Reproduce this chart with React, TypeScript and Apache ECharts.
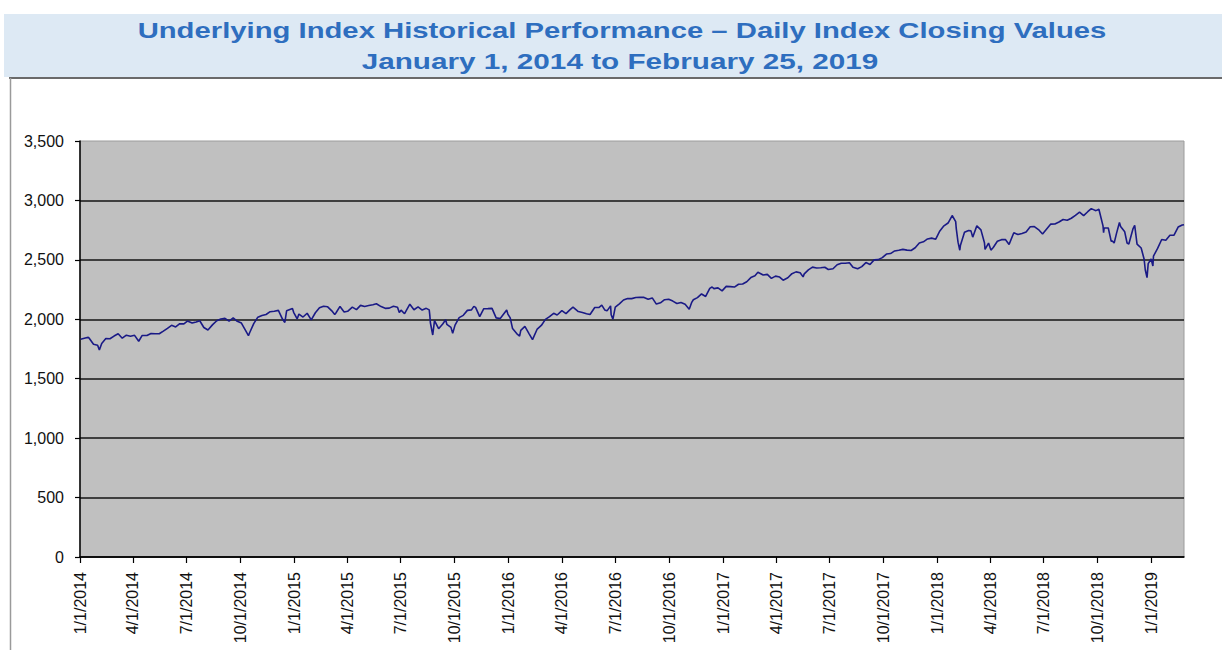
import React, { useEffect, useRef } from 'react';
import * as echarts from 'echarts';

const titleLine1 = 'Underlying Index Historical Performance – Daily Index Closing Values';
const titleLine2 = 'January 1, 2014 to February 25, 2019';

const xTickLabels = [
  '1/1/2014', '4/1/2014', '7/1/2014', '10/1/2014',
  '1/1/2015', '4/1/2015', '7/1/2015', '10/1/2015',
  '1/1/2016', '4/1/2016', '7/1/2016', '10/1/2016',
  '1/1/2017', '4/1/2017', '7/1/2017', '10/1/2017',
  '1/1/2018', '4/1/2018', '7/1/2018', '10/1/2018',
  '1/1/2019',
];
const xStart = '2014-01-01';
const xEnd = '2019-02-25';
const yMin = 0;
const yMax = 3500;
const yStep = 500;

const s2014: [string, number][] = [
  ['2014-01-02', 1832], ['2014-01-10', 1842], ['2014-01-15', 1848], ['2014-01-17', 1839],
  ['2014-01-24', 1790], ['2014-01-31', 1782], ['2014-02-03', 1742], ['2014-02-07', 1797],
  ['2014-02-14', 1838], ['2014-02-21', 1836], ['2014-02-28', 1859], ['2014-03-07', 1878],
  ['2014-03-14', 1841], ['2014-03-21', 1866], ['2014-03-28', 1857], ['2014-04-04', 1865],
  ['2014-04-11', 1815], ['2014-04-17', 1864], ['2014-04-25', 1863], ['2014-05-02', 1881],
  ['2014-05-09', 1878], ['2014-05-16', 1878], ['2014-05-23', 1900], ['2014-05-30', 1924],
  ['2014-06-06', 1949], ['2014-06-13', 1936], ['2014-06-20', 1963], ['2014-06-27', 1961],
  ['2014-07-03', 1985], ['2014-07-11', 1968], ['2014-07-18', 1978], ['2014-07-24', 1988],
  ['2014-07-31', 1931], ['2014-08-07', 1910], ['2014-08-15', 1955], ['2014-08-22', 1988],
  ['2014-08-29', 2003], ['2014-09-05', 2008], ['2014-09-12', 1985], ['2014-09-19', 2011],
  ['2014-09-26', 1983], ['2014-10-03', 1968], ['2014-10-10', 1906], ['2014-10-15', 1862],
  ['2014-10-17', 1887], ['2014-10-24', 1964], ['2014-10-31', 2018], ['2014-11-07', 2032],
  ['2014-11-14', 2040], ['2014-11-21', 2064], ['2014-11-28', 2068], ['2014-12-05', 2075],
  ['2014-12-12', 2002], ['2014-12-16', 1973], ['2014-12-19', 2071], ['2014-12-29', 2091],
  ['2014-12-31', 2059],
];

const s2015: [string, number][] = [
  ['2015-01-06', 2003], ['2015-01-09', 2044], ['2015-01-16', 2019], ['2015-01-23', 2051],
  ['2015-01-30', 1995], ['2015-02-06', 2055], ['2015-02-13', 2097], ['2015-02-20', 2110],
  ['2015-02-27', 2105], ['2015-03-06', 2071], ['2015-03-11', 2041], ['2015-03-13', 2053],
  ['2015-03-20', 2108], ['2015-03-27', 2061], ['2015-04-02', 2067], ['2015-04-10', 2102],
  ['2015-04-17', 2081], ['2015-04-24', 2117], ['2015-05-01', 2108], ['2015-05-08', 2116],
  ['2015-05-15', 2123], ['2015-05-21', 2131], ['2015-05-29', 2107], ['2015-06-05', 2092],
  ['2015-06-12', 2094], ['2015-06-19', 2110], ['2015-06-26', 2102], ['2015-06-29', 2058],
  ['2015-07-02', 2077], ['2015-07-08', 2047], ['2015-07-17', 2127], ['2015-07-24', 2080],
  ['2015-07-31', 2104], ['2015-08-07', 2078], ['2015-08-14', 2092], ['2015-08-19', 2079],
  ['2015-08-20', 2035], ['2015-08-21', 1971], ['2015-08-24', 1893], ['2015-08-25', 1868],
  ['2015-08-28', 1989], ['2015-09-04', 1921], ['2015-09-11', 1961], ['2015-09-16', 1996],
  ['2015-09-18', 1958], ['2015-09-25', 1932], ['2015-09-28', 1882], ['2015-10-02', 1951],
  ['2015-10-09', 2014], ['2015-10-16', 2033], ['2015-10-23', 2075], ['2015-10-30', 2079],
  ['2015-11-03', 2109], ['2015-11-06', 2100], ['2015-11-13', 2023], ['2015-11-20', 2089],
  ['2015-11-27', 2090], ['2015-12-04', 2092], ['2015-12-11', 2012], ['2015-12-18', 2006],
  ['2015-12-29', 2078], ['2015-12-31', 2044],
];

const s2016: [string, number][] = [
  ['2016-01-04', 2012], ['2016-01-08', 1922], ['2016-01-15', 1880], ['2016-01-20', 1859],
  ['2016-01-22', 1907], ['2016-01-29', 1940], ['2016-02-05', 1880], ['2016-02-11', 1829],
  ['2016-02-19', 1918], ['2016-02-26', 1948], ['2016-03-04', 1999], ['2016-03-11', 2022],
  ['2016-03-18', 2050], ['2016-03-24', 2036], ['2016-04-01', 2073], ['2016-04-08', 2048],
  ['2016-04-15', 2081], ['2016-04-20', 2102], ['2016-04-29', 2065], ['2016-05-06', 2057],
  ['2016-05-13', 2047], ['2016-05-19', 2040], ['2016-05-27', 2099], ['2016-06-03', 2099],
  ['2016-06-08', 2119], ['2016-06-13', 2079], ['2016-06-17', 2071], ['2016-06-23', 2113],
  ['2016-06-24', 2038], ['2016-06-27', 2001], ['2016-07-01', 2103], ['2016-07-08', 2130],
  ['2016-07-15', 2162], ['2016-07-22', 2175], ['2016-07-29', 2174], ['2016-08-05', 2183],
  ['2016-08-12', 2184], ['2016-08-19', 2184], ['2016-08-26', 2169], ['2016-09-02', 2180],
  ['2016-09-09', 2128], ['2016-09-16', 2139], ['2016-09-23', 2165], ['2016-09-30', 2168],
  ['2016-10-07', 2153], ['2016-10-14', 2133], ['2016-10-21', 2141], ['2016-10-28', 2126],
  ['2016-11-04', 2085], ['2016-11-08', 2140], ['2016-11-11', 2164], ['2016-11-18', 2182],
  ['2016-11-25', 2213], ['2016-12-02', 2192], ['2016-12-09', 2260], ['2016-12-13', 2272],
  ['2016-12-16', 2258], ['2016-12-23', 2264], ['2016-12-30', 2239],
];

const s2017: [string, number][] = [
  ['2017-01-06', 2277], ['2017-01-13', 2275], ['2017-01-20', 2271], ['2017-01-27', 2295],
  ['2017-02-03', 2297], ['2017-02-10', 2316], ['2017-02-17', 2351], ['2017-02-24', 2367],
  ['2017-03-01', 2396], ['2017-03-10', 2373], ['2017-03-17', 2378], ['2017-03-24', 2344],
  ['2017-03-31', 2363], ['2017-04-07', 2355], ['2017-04-13', 2329], ['2017-04-21', 2349],
  ['2017-04-28', 2384], ['2017-05-05', 2399], ['2017-05-12', 2391], ['2017-05-17', 2357],
  ['2017-05-19', 2382], ['2017-05-26', 2416], ['2017-06-02', 2439], ['2017-06-09', 2432],
  ['2017-06-16', 2433], ['2017-06-23', 2438], ['2017-06-29', 2419], ['2017-07-07', 2425],
  ['2017-07-14', 2459], ['2017-07-21', 2472], ['2017-07-28', 2472], ['2017-08-04', 2476],
  ['2017-08-10', 2438], ['2017-08-11', 2441], ['2017-08-18', 2425], ['2017-08-25', 2443],
  ['2017-09-01', 2477], ['2017-09-08', 2461], ['2017-09-15', 2500], ['2017-09-22', 2502],
  ['2017-09-29', 2519], ['2017-10-06', 2549], ['2017-10-13', 2553], ['2017-10-20', 2575],
  ['2017-10-27', 2581], ['2017-11-03', 2588], ['2017-11-10', 2582], ['2017-11-17', 2579],
  ['2017-11-24', 2602], ['2017-12-01', 2642], ['2017-12-08', 2652], ['2017-12-15', 2676],
  ['2017-12-22', 2683], ['2017-12-29', 2674],
];

const s2018: [string, number][] = [
  ['2018-01-05', 2743], ['2018-01-12', 2786], ['2018-01-19', 2810], ['2018-01-26', 2873],
  ['2018-02-01', 2822], ['2018-02-02', 2762], ['2018-02-05', 2649], ['2018-02-08', 2581],
  ['2018-02-09', 2620], ['2018-02-16', 2732], ['2018-02-23', 2747], ['2018-02-27', 2744],
  ['2018-03-02', 2691], ['2018-03-09', 2786], ['2018-03-16', 2752], ['2018-03-22', 2644],
  ['2018-03-23', 2588], ['2018-03-29', 2641], ['2018-04-02', 2582], ['2018-04-06', 2604],
  ['2018-04-13', 2656], ['2018-04-20', 2670], ['2018-04-27', 2670], ['2018-05-03', 2630],
  ['2018-05-11', 2728], ['2018-05-18', 2713], ['2018-05-25', 2721], ['2018-06-01', 2735],
  ['2018-06-08', 2779], ['2018-06-15', 2780], ['2018-06-22', 2755], ['2018-06-29', 2718],
  ['2018-07-06', 2760], ['2018-07-13', 2801], ['2018-07-20', 2802], ['2018-07-27', 2819],
  ['2018-08-03', 2840], ['2018-08-10', 2833], ['2018-08-17', 2850], ['2018-08-24', 2875],
  ['2018-08-31', 2902], ['2018-09-07', 2872], ['2018-09-14', 2905], ['2018-09-20', 2931],
  ['2018-09-28', 2914], ['2018-10-03', 2926], ['2018-10-05', 2886], ['2018-10-10', 2786],
  ['2018-10-11', 2728], ['2018-10-12', 2768], ['2018-10-19', 2768], ['2018-10-24', 2656],
  ['2018-10-26', 2659], ['2018-10-29', 2641], ['2018-11-02', 2723], ['2018-11-07', 2814],
  ['2018-11-09', 2781], ['2018-11-16', 2736], ['2018-11-20', 2642], ['2018-11-23', 2633],
  ['2018-11-30', 2760], ['2018-12-03', 2790], ['2018-12-07', 2633], ['2018-12-14', 2600],
  ['2018-12-19', 2507], ['2018-12-21', 2417], ['2018-12-24', 2351], ['2018-12-26', 2468],
  ['2018-12-31', 2507],
];

const s2019: [string, number][] = [
  ['2019-01-03', 2448], ['2019-01-04', 2532], ['2019-01-11', 2596], ['2019-01-18', 2671],
  ['2019-01-25', 2665], ['2019-02-01', 2707], ['2019-02-08', 2708], ['2019-02-15', 2776],
  ['2019-02-22', 2793], ['2019-02-25', 2796],
];

const FONT = '"Liberation Sans", Arial, Helvetica, sans-serif';

function isoTime(s: string): number {
  const [y, m, d] = s.split('-').map(Number);
  return Date.UTC(y, m - 1, d);
}
function usTime(s: string): number {
  const [m, d, y] = s.split('/').map(Number);
  return Date.UTC(y, m - 1, d);
}

export default function App() {
  const ref = useRef<HTMLDivElement>(null);

  useEffect(() => {
    if (!ref.current) return;
    const chart = echarts.init(ref.current, null, { renderer: 'svg' });
    const tickTimes = xTickLabels.map(usTime);
    const data = [...s2014, ...s2015, ...s2016, ...s2017, ...s2018, ...s2019].map(
      ([d, v]) => [isoTime(d), v]
    );
    const labelFor = (v: number) => {
      let best = 0;
      for (let i = 1; i < tickTimes.length; i++) {
        if (Math.abs(tickTimes[i] - v) < Math.abs(tickTimes[best] - v)) best = i;
      }
      return xTickLabels[best];
    };

    chart.setOption({
      animation: false,
      backgroundColor: '#ffffff',
      textStyle: { fontFamily: FONT },
      grid: {
        left: 80,
        top: 141,
        right: 38,
        bottom: 93,
        show: true,
        backgroundColor: '#c0c0c0',
        borderColor: '#9c9c9c',
        borderWidth: 1,
      },
      xAxis: {
        type: 'value',
        min: isoTime(xStart),
        max: isoTime(xEnd),
        axisLine: { show: true, onZero: false, lineStyle: { color: '#000', width: 1.5 } },
        axisTick: {
          show: true,
          length: 6,
          customValues: tickTimes,
          lineStyle: { color: '#000', width: 1.2 },
        },
        axisLabel: {
          customValues: tickTimes,
          rotate: 90,
          margin: 15,
          fontSize: 16,
          fontFamily: FONT,
          color: '#111',
          formatter: (v: number) => labelFor(v),
        },
        splitLine: { show: false },
      },
      yAxis: {
        type: 'value',
        min: yMin,
        max: yMax,
        interval: yStep,
        axisLine: { show: true, lineStyle: { color: '#000', width: 1.5 } },
        axisTick: { show: true, length: 5, lineStyle: { color: '#000', width: 1.2 } },
        axisLabel: {
          margin: 16,
          fontSize: 16,
          fontFamily: FONT,
          color: '#111',
          formatter: (v: number) => v.toLocaleString('en-US'),
        },
        splitLine: {
          show: true,
          showMaxLine: false,
          lineStyle: { color: '#141414', width: 1.5 },
        },
      },
      series: [
        {
          type: 'line',
          data,
          showSymbol: false,
          symbol: 'none',
          lineStyle: { color: '#1a1a86', width: 1.6 },
        },
      ],
      graphic: [
        {
          type: 'rect',
          shape: { x: 4, y: 14, width: 1218, height: 63 },
          style: { fill: '#dde9f4' },
          silent: true,
        },
        {
          type: 'line',
          shape: { x1: 9, y1: 78, x2: 1222, y2: 78 },
          style: { stroke: '#6a6a6a', lineWidth: 2 },
          silent: true,
        },
        {
          type: 'line',
          shape: { x1: 10.5, y1: 78, x2: 10.5, y2: 650 },
          style: { stroke: '#9a9a9a', lineWidth: 1.5 },
          silent: true,
        },
        {
          type: 'text',
          x: 622,
          y: 30,
          scaleX: 1.33,
          style: {
            text: titleLine1,
            fill: '#2e6ebf',
            font: `bold 22px ${FONT}`,
            textAlign: 'center',
            textVerticalAlign: 'middle',
          },
          silent: true,
        },
        {
          type: 'text',
          x: 620,
          y: 61,
          scaleX: 1.35,
          style: {
            text: titleLine2,
            fill: '#2e6ebf',
            font: `bold 22px ${FONT}`,
            textAlign: 'center',
            textVerticalAlign: 'middle',
          },
          silent: true,
        },
      ],
    });

    return () => chart.dispose();
  }, []);

  return (
    <div
      ref={ref}
      style={{ position: 'fixed', left: 0, top: 0, width: 1222, height: 650, background: '#fff' }}
    />
  );
}
